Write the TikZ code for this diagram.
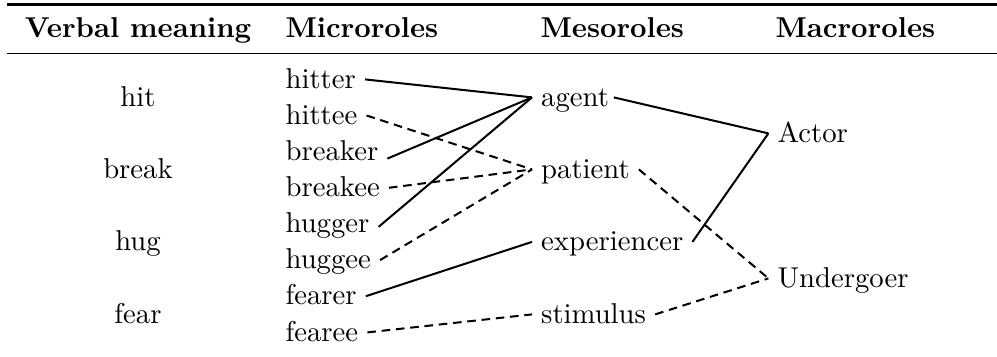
\documentclass[tikz,border=0pt]{standalone}
\begin{document}
\begin{tikzpicture}[x=0.3484pt,y=-0.3484pt,
  lbl/.style={inner xsep=3pt, inner ysep=0pt, text height=7pt, text depth=1pt, anchor=base west},
  verb/.style={inner sep=0pt, anchor=base},
  hdr/.style={font=\bfseries, inner sep=0pt, anchor=base west},
  link/.style={line width=0.7pt},
  dlink/.style={line width=0.7pt, dash pattern=on 3pt off 2pt},
  heavyrule/.style={line width=0.8pt},
  lightrule/.style={line width=0.5pt}]
\useasboundingbox (0,0) rectangle (997,356);
% rules
\coordinate (t1) at (7,4.5);
\coordinate (t2) at (997,4.5);
\coordinate (m1) at (7,53.5);
\coordinate (m2) at (997,53.5);
\draw[heavyrule] (t1) -- (t2);
\draw[lightrule] (m1) -- (m2);
% headers
\node[hdr, anchor=base] (h1) at (138,37) {Verbal meaning};
\node[hdr] (h2) at (285,37) {Microroles};
\node[hdr] (h3) at (540,37) {Mesoroles};
\node[hdr] (h4) at (775,37) {Macroroles};
% verbs
\node[verb] (hit) at (138,106) {hit};
\node[verb] (break) at (138,178) {break};
\node[verb] (hug) at (138,250.5) {hug};
\node[verb] (fear) at (138,323) {fear};
% microroles
\node[lbl] (hitter)  at (276.4,88)   {hitter};
\node[lbl] (hittee)  at (276.4,124.1) {hittee};
\node[lbl] (breaker) at (276.4,160.3) {breaker};
\node[lbl] (breakee) at (276.4,196.4) {breakee};
\node[lbl] (hugger)  at (276.4,232.6) {hugger};
\node[lbl] (huggee)  at (276.4,268.7) {huggee};
\node[lbl] (fearer)  at (276.4,304.8) {fearer};
\node[lbl] (fearee)  at (276.4,341) {fearee};
% mesoroles
\node[lbl] (agent)       at (532,106) {agent};
\node[lbl] (patient)     at (532,178) {patient};
\node[lbl] (experiencer) at (532,250.5) {experiencer};
\node[lbl] (stimulus)    at (532,323) {stimulus};
% macroroles
\node[lbl] (actor)     at (768.4,142) {Actor};
\node[lbl] (undergoer) at (768.4,287) {Undergoer};
% connectors micro -> meso
\draw[link]  (hitter.east) -- (agent.west);
\draw[dlink] (hittee.east) -- (patient.west);
\draw[link]  ([yshift=-2.4pt]breaker.east) -- (agent.west);
\draw[dlink] (breakee.east) -- (patient.west);
\draw[link]  ([yshift=-1pt]hugger.east) -- (agent.west);
\draw[dlink] (huggee.east) -- (patient.west);
\draw[link]  (fearer.east) -- (experiencer.west);
\draw[dlink] (fearee.east) -- (stimulus.west);
% meso -> macro
\draw[link]  ([xshift=-1.5pt]agent.east) -- (actor.west);
\draw[link]  (experiencer.east) -- (actor.west);
\draw[dlink] (patient.east) -- (undergoer.west);
\draw[dlink] (stimulus.east) -- (undergoer.west);
\end{tikzpicture}
\end{document}
